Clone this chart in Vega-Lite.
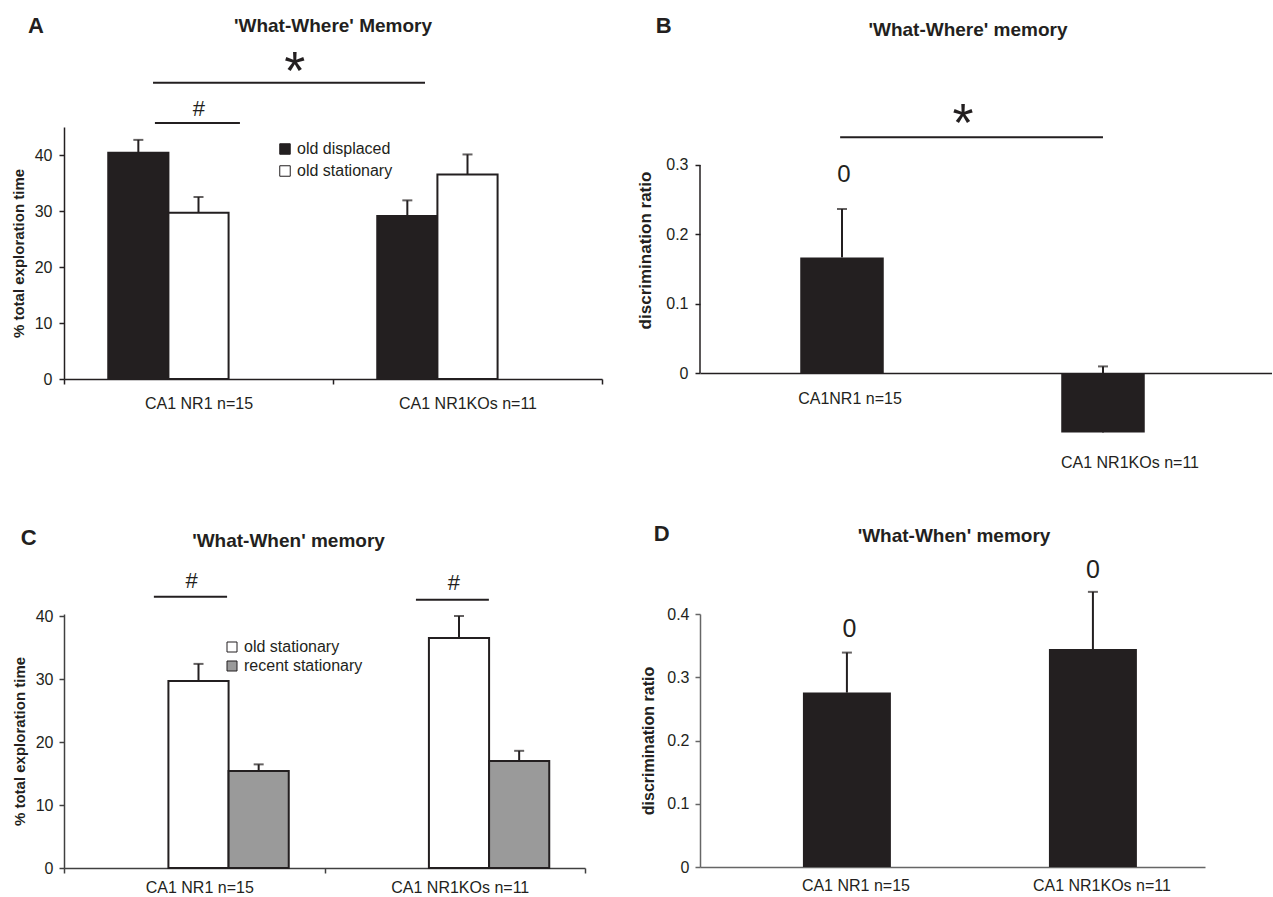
{
  "$schema": "https://vega.github.io/schema/vega-lite/v6.json",
  "background": "white",
  "padding": {"left": 11, "top": 14, "right": 0, "bottom": 0},
  "config": {
    "font": "Liberation Sans",
    "view": {"stroke": null},
    "axis": {"labelFont": "Liberation Sans", "labelFontSize": 16, "labelColor": "#231f20", "domainColor": "#231f20", "tickColor": "#231f20", "grid": false, "titleFont": "Liberation Sans", "titleFontWeight": "bold", "titleColor": "#231f20", "domainWidth": 1.5, "tickWidth": 1.5},
    "title": {"font": "Liberation Sans", "fontSize": 19, "fontWeight": "bold", "color": "#231f20", "anchor": "middle", "frame": "group", "offset": 0},
    "text": {"font": "Liberation Sans", "color": "#231f20"}
  },
  "resolve": {"scale": {"color": "independent"}, "legend": {"color": "independent"}},
  "bounds": "flush",
  "columns": 2,
  "spacing": {"row": 235, "column": 98},
  "concat": [
        {
          "width": 538, "height": 252,
          "title": {"text": "'What-Where' Memory", "dy": 25},
          "resolve": {"scale": {"x": "independent"}},
          "layer": [
            {
              "data": {"values": [
                {"group": "CA1 NR1 n=15", "series": "old displaced", "v": 40.4, "hi": 42.7},
                {"group": "CA1 NR1 n=15", "series": "old stationary", "v": 29.7, "hi": 32.5},
                {"group": "CA1 NR1KOs n=11", "series": "old displaced", "v": 29.1, "hi": 31.9},
                {"group": "CA1 NR1KOs n=11", "series": "old stationary", "v": 36.5, "hi": 40.1}
              ]},
              "encoding": {
                "x": {"field": "group", "type": "nominal", "sort": null, "scale": {"type": "band", "paddingInner": 0, "paddingOuter": 0}, "axis": {"title": null, "labelAngle": 0, "tickBand": "extent", "tickSize": 5, "labelPadding": 11}},
                "xOffset": {"field": "series", "type": "nominal", "sort": null, "scale": {"paddingInner": 0, "paddingOuter": 0.7355}},
                "y": {"field": "v", "type": "quantitative", "scale": {"domain": [0, 45], "nice": false}, "axis": {"title": "% total exploration time", "values": [0, 10, 20, 30, 40], "format": "~g", "tickSize": 5, "labelPadding": 7, "titlePadding": 8, "titleFontSize": 15}}
              },
              "layer": [
                {"mark": {"type": "bar", "stroke": "#231f20", "strokeWidth": 2},
                 "encoding": {"color": {"field": "series", "type": "nominal", "sort": null, "scale": {"domain": ["old displaced", "old stationary"], "range": ["#231f20", "#ffffff"]},
                   "legend": {"title": null, "orient": "none", "legendX": 213, "legendY": 14, "symbolType": "square", "symbolSize": 110, "symbolStrokeColor": "#231f20", "symbolStrokeWidth": 1, "labelFont": "Liberation Sans", "labelFontSize": 16, "labelColor": "#231f20", "rowPadding": 6, "labelOffset": 4, "padding": 0}}}},
                {"mark": {"type": "rule", "color": "#231f20", "strokeWidth": 2}, "encoding": {"y2": {"field": "hi"}}},
                {"mark": {"type": "tick", "orient": "horizontal", "size": 10, "thickness": 2, "color": "#231f20"}, "encoding": {"y": {"field": "hi", "type": "quantitative", "scale": {"domain": [0, 45], "nice": false}}}}
              ]
            },
            {
              "encoding": {"x": {"field": "u", "type": "quantitative", "scale": {"domain": [0, 2], "nice": false, "zero": false}, "axis": null}},
              "layer": [
                {"data": {"values": [{"u": 0.338, "u2": 0.654, "v": 45.7}, {"u": 0.331, "u2": 1.342, "v": 52.9}]},
                 "mark": {"type": "rule", "color": "#231f20", "strokeWidth": 2},
                 "encoding": {"x2": {"field": "u2"}, "y": {"field": "v", "type": "quantitative", "scale": {"domain": [0, 45], "nice": false}}}},
                {"data": {"values": [{"u": 0.501, "v": 48.2, "t": "#"}]},
                 "mark": {"type": "text", "fontSize": 22, "align": "center", "baseline": "middle"},
                 "encoding": {"y": {"field": "v", "type": "quantitative", "scale": {"domain": [0, 45], "nice": false}}, "text": {"field": "t"}}},
                {"data": {"values": [{"u": 0.858, "v": 51.8, "t": "*"}]},
                 "mark": {"type": "text", "fontSize": 54, "align": "center", "baseline": "alphabetic"},
                 "encoding": {"y": {"field": "v", "type": "quantitative", "scale": {"domain": [0, 45], "nice": false}}, "text": {"field": "t"}}},
                {"data": {"values": [{"u": -0.104, "v": 63, "t": "A"}]},
                 "mark": {"type": "text", "fontSize": 22, "fontWeight": "bold", "align": "center", "baseline": "middle"},
                 "encoding": {"y": {"field": "v", "type": "quantitative", "scale": {"domain": [0, 45], "nice": false}}, "text": {"field": "t"}}}
              ]
            }
          ]
        },
        {
          "width": 572, "height": 246,
          "title": {"text": "'What-Where' memory", "dx": -18, "dy": 29},
          "resolve": {"scale": {"x": "independent"}},
          "layer": [
            {
              "data": {"values": [
                {"group": "CA1NR1 n=15", "v": 0.1667, "hi": 0.2365},
                {"group": "CA1 NR1KOs n=11", "v": -0.0857, "hi": 0.0095}
              ]},
              "encoding": {
                "x": {"field": "group", "type": "nominal", "sort": null, "scale": {"type": "band", "paddingInner": 0, "paddingOuter": 0.0958, "align": 0.23},
                  "axis": {"title": null, "labelAngle": 0, "ticks": false, "tickSize": 0,
                    "labelPadding": {"condition": {"test": "datum.value == 'CA1 NR1KOs n=11'", "value": 81}, "value": 17},
                    "labelOffset": {"condition": {"test": "datum.value == 'CA1 NR1KOs n=11'", "value": 27}, "value": 8}}},
                "y": {"field": "v", "type": "quantitative", "scale": {"domain": [0, 0.3548], "nice": false}, "axis": {"title": "discrimination ratio", "values": [0, 0.1, 0.2, 0.3], "format": "~g", "domain": false, "tickSize": 5, "labelPadding": 7, "titlePadding": 11, "titleFontSize": 17}}
              },
              "layer": [
                {"mark": {"type": "bar", "color": "#231f20", "width": {"band": 0.32}}},
                {"mark": {"type": "rule", "color": "#231f20", "strokeWidth": 2}, "encoding": {"y2": {"field": "hi"}}},
                {"mark": {"type": "tick", "orient": "horizontal", "size": 10, "thickness": 2, "color": "#231f20"}, "encoding": {"y": {"field": "hi", "type": "quantitative", "scale": {"domain": [0, 0.3548], "nice": false}}}}
              ]
            },
            {
              "encoding": {"x": {"field": "u", "type": "quantitative", "scale": {"domain": [0, 2], "nice": false, "zero": false}, "axis": null}},
              "layer": [
                {"data": {"values": [{"u": 0, "v": 0, "v2": 0.3}]},
                 "mark": {"type": "rule", "color": "#231f20", "strokeWidth": 1.5},
                 "encoding": {"y": {"field": "v", "type": "quantitative", "scale": {"domain": [0, 0.3548], "nice": false}}, "y2": {"field": "v2"}}},
                {"data": {"values": [{"u": 0.49, "u2": 1.409, "v": 0.34}]},
                 "mark": {"type": "rule", "color": "#231f20", "strokeWidth": 2},
                 "encoding": {"x2": {"field": "u2"}, "y": {"field": "v", "type": "quantitative", "scale": {"domain": [0, 0.3548], "nice": false}}}},
                {"data": {"values": [{"u": 0.92, "v": 0.335, "t": "*"}]},
                 "mark": {"type": "text", "fontSize": 54, "align": "center", "baseline": "alphabetic"},
                 "encoding": {"y": {"field": "v", "type": "quantitative", "scale": {"domain": [0, 0.3548], "nice": false}}, "text": {"field": "t"}}},
                {"data": {"values": [{"u": 0.503, "v": 0.285, "t": "0"}]},
                 "mark": {"type": "text", "fontSize": 24, "align": "center", "baseline": "middle"},
                 "encoding": {"y": {"field": "v", "type": "quantitative", "scale": {"domain": [0, 0.3548], "nice": false}}, "text": {"field": "t"}}},
                {"data": {"values": [{"u": -0.127, "v": 0.501, "t": "B"}]},
                 "mark": {"type": "text", "fontSize": 22, "fontWeight": "bold", "align": "center", "baseline": "middle"},
                 "encoding": {"y": {"field": "v", "type": "quantitative", "scale": {"domain": [0, 0.3548], "nice": false}}, "text": {"field": "t"}}}
              ]
            }
          ]
        },
        {
          "width": 521, "height": 254,
          "title": {"text": "'What-When' memory", "dx": -36, "dy": 28},
          "resolve": {"scale": {"x": "independent"}},
          "layer": [
            {
              "data": {"values": [
                {"group": "CA1 NR1 n=15", "series": "old stationary", "v": 29.7, "hi": 32.4},
                {"group": "CA1 NR1 n=15", "series": "recent stationary", "v": 15.4, "hi": 16.45},
                {"group": "CA1 NR1KOs n=11", "series": "old stationary", "v": 36.5, "hi": 40.0},
                {"group": "CA1 NR1KOs n=11", "series": "recent stationary", "v": 17.0, "hi": 18.6}
              ]},
              "encoding": {
                "x": {"field": "group", "type": "nominal", "sort": null, "scale": {"type": "band", "paddingInner": 0, "paddingOuter": 0}, "axis": {"title": null, "labelAngle": 0, "tickBand": "extent", "tickSize": 5, "labelPadding": 6, "labelOffset": 5, "domainColor": "#404040", "tickColor": "#404040"}},
                "xOffset": {"field": "series", "type": "nominal", "sort": null, "scale": {"paddingInner": 0, "paddingOuter": 0.777}},
                "y": {"field": "v", "type": "quantitative", "scale": {"domain": [0, 40.32], "nice": false}, "axis": {"title": "% total exploration time", "values": [0, 10, 20, 30, 40], "format": "~g", "tickSize": 5, "labelPadding": 6, "titlePadding": 8, "titleFontSize": 15, "domainColor": "#404040", "tickColor": "#404040"}}
              },
              "layer": [
                {"mark": {"type": "bar", "stroke": "#231f20", "strokeWidth": 2},
                 "encoding": {"color": {"field": "series", "type": "nominal", "sort": null, "scale": {"domain": ["old stationary", "recent stationary"], "range": ["#ffffff", "#9a9a9a"]},
                   "legend": {"title": null, "orient": "none", "legendX": 160, "legendY": 25, "symbolType": "square", "symbolSize": 100, "symbolStrokeColor": "#231f20", "symbolStrokeWidth": 1, "labelFont": "Liberation Sans", "labelFontSize": 16, "labelColor": "#231f20", "rowPadding": 3, "labelOffset": 4, "padding": 0}}}},
                {"mark": {"type": "rule", "color": "#231f20", "strokeWidth": 2}, "encoding": {"y2": {"field": "hi"}}},
                {"mark": {"type": "tick", "orient": "horizontal", "size": 10, "thickness": 2, "color": "#231f20"}, "encoding": {"y": {"field": "hi", "type": "quantitative", "scale": {"domain": [0, 40.32], "nice": false}}}}
              ]
            },
            {
              "encoding": {"x": {"field": "u", "type": "quantitative", "scale": {"domain": [0, 2], "nice": false, "zero": false}, "axis": null}},
              "layer": [
                {"data": {"values": [{"u": 0.345, "u2": 0.626, "v": 43.06}, {"u": 1.351, "u2": 1.631, "v": 42.6}]},
                 "mark": {"type": "rule", "color": "#231f20", "strokeWidth": 2},
                 "encoding": {"x2": {"field": "u2"}, "y": {"field": "v", "type": "quantitative", "scale": {"domain": [0, 40.32], "nice": false}}}},
                {"data": {"values": [{"u": 0.49, "v": 45.6, "t": "#"}, {"u": 1.497, "v": 45.3, "t": "#"}]},
                 "mark": {"type": "text", "fontSize": 22, "align": "center", "baseline": "middle"},
                 "encoding": {"y": {"field": "v", "type": "quantitative", "scale": {"domain": [0, 40.32], "nice": false}}, "text": {"field": "t"}}},
                {"data": {"values": [{"u": -0.136, "v": 52.4, "t": "C"}]},
                 "mark": {"type": "text", "fontSize": 22, "fontWeight": "bold", "align": "center", "baseline": "middle"},
                 "encoding": {"y": {"field": "v", "type": "quantitative", "scale": {"domain": [0, 40.32], "nice": false}}, "text": {"field": "t"}}}
              ]
            }
          ]
        },
        {
          "width": 505, "height": 253,
          "title": {"text": "'What-When' memory", "dx": 1.5, "dy": 27},
          "resolve": {"scale": {"x": "independent"}},
          "layer": [
            {
              "data": {"values": [
                {"group": "CA1 NR1 n=15", "v": 0.2757, "hi": 0.339},
                {"group": "CA1 NR1KOs n=11", "v": 0.3445, "hi": 0.435}
              ]},
              "encoding": {
                "x": {"field": "group", "type": "nominal", "sort": null, "scale": {"type": "band", "paddingInner": 0.2, "paddingOuter": 0.1264, "align": 0.78}, "axis": {"title": null, "labelAngle": 0, "ticks": false, "tickSize": 0, "labelPadding": 10, "labelOffset": 9, "domainColor": "#666666"}},
                "y": {"field": "v", "type": "quantitative", "scale": {"domain": [0, 0.4], "nice": false}, "axis": {"title": "discrimination ratio", "values": [0, 0.1, 0.2, 0.3, 0.4], "format": "~g", "tickSize": 5, "labelPadding": 6, "titlePadding": 10, "titleFontSize": 16, "domainColor": "#666666", "tickColor": "#666666"}}
              },
              "layer": [
                {"mark": {"type": "bar", "color": "#231f20", "width": {"band": 0.447}}},
                {"mark": {"type": "rule", "color": "#231f20", "strokeWidth": 2}, "encoding": {"y2": {"field": "hi"}}},
                {"mark": {"type": "tick", "orient": "horizontal", "size": 10, "thickness": 2, "color": "#231f20"}, "encoding": {"y": {"field": "hi", "type": "quantitative", "scale": {"domain": [0, 0.4], "nice": false}}}}
              ]
            },
            {
              "encoding": {"x": {"field": "u", "type": "quantitative", "scale": {"domain": [0, 2], "nice": false, "zero": false}, "axis": null}},
              "layer": [
                {"data": {"values": [{"u": 0.592, "v": 0.376, "t": "0"}, {"u": 1.556, "v": 0.47, "t": "0"}]},
                 "mark": {"type": "text", "fontSize": 25, "align": "center", "baseline": "middle"},
                 "encoding": {"y": {"field": "v", "type": "quantitative", "scale": {"domain": [0, 0.4], "nice": false}}, "text": {"field": "t"}}},
                {"data": {"values": [{"u": -0.152, "v": 0.5265, "t": "D"}]},
                 "mark": {"type": "text", "fontSize": 22, "fontWeight": "bold", "align": "center", "baseline": "middle"},
                 "encoding": {"y": {"field": "v", "type": "quantitative", "scale": {"domain": [0, 0.4], "nice": false}}, "text": {"field": "t"}}}
              ]
            }
          ]
        }
  ]
}
